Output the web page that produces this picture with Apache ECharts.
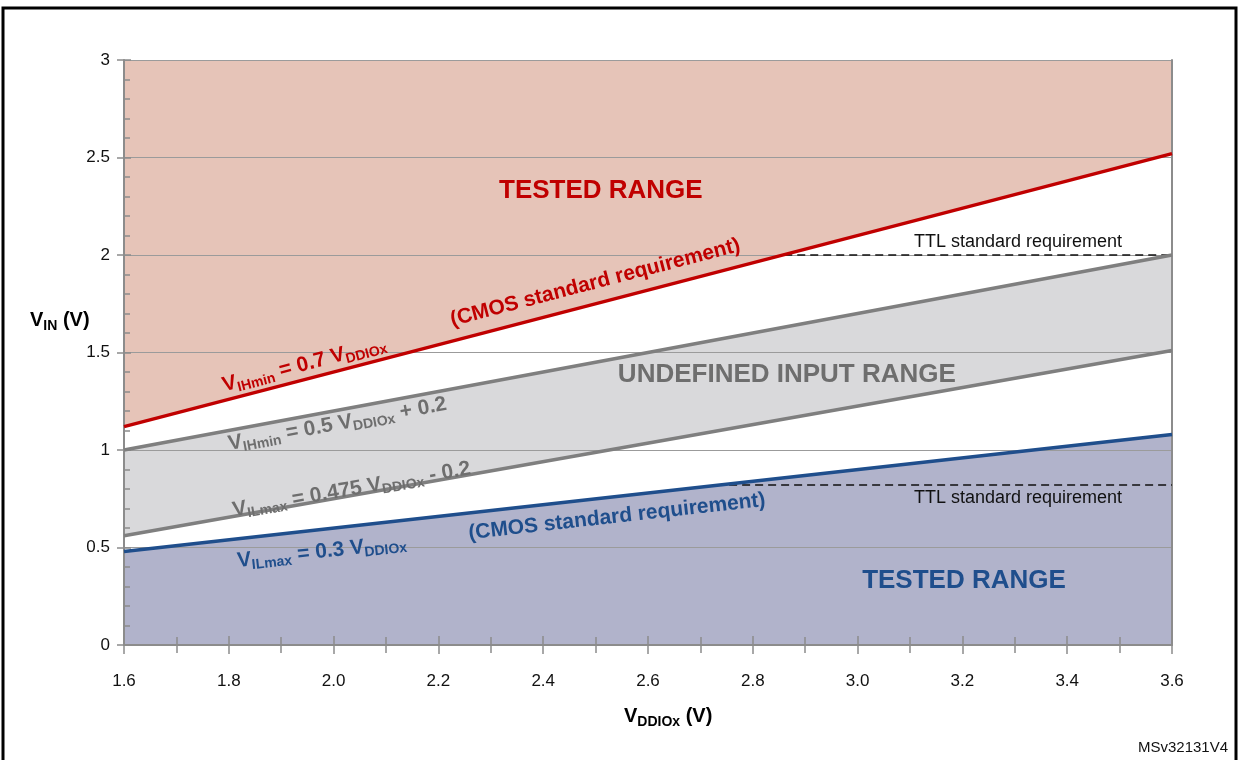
<!DOCTYPE html>
<html>
<head>
  <meta charset="utf-8" />
  <title>VIN vs VDDIOx input characteristics</title>
  <script src="https://cdn.jsdelivr.net/npm/echarts@6/dist/echarts.min.js"></script>
  <style>
    html, body { margin: 0; padding: 0; background: #ffffff; }
    #chart { width: 1239px; height: 760px; }
  </style>
</head>
<body>
  <div id="chart"></div>
  <script>
    // supply voltage range (x) and the four threshold lines (y) at both ends
    const vddio   = [1.6, 3.6];
    const vihCmos = [1.12, 2.52];   // 0.7 VDDIOx
    const vihMin  = [1.0, 2.0];     // 0.5 VDDIOx + 0.2
    const vilMax  = [0.56, 1.51];   // 0.475 VDDIOx - 0.2
    const vilCmos = [0.48, 1.08];   // 0.3 VDDIOx

    // TTL requirement dashed segments
    const ttlHighX = [2.86, 3.6];
    const ttlHighY = [2.0, 2.0];
    const ttlLowX  = [2.73, 3.6];
    const ttlLowY  = [0.82, 0.82];

    const FONT = '"Liberation Sans", Arial, sans-serif';
    const RED = '#c00000', GREY = '#6e6e6e', BLUE = '#1f4e8c';

    function pts(xs, ys) { return xs.map((x, i) => [x, ys[i]]); }

    function richFor(color, big, small) {
      return {
        m: { fontFamily: FONT, fontWeight: 'bold', fontSize: big, color: color, lineHeight: big + 3, verticalAlign: 'top' },
        s: { fontFamily: FONT, fontWeight: 'bold', fontSize: small, color: color, lineHeight: small, verticalAlign: 'top', padding: [Math.round(big * 0.43), 0, 0, 0] }
      };
    }

    // annotations: text, anchor (data coords), rotation, color, size
    const notes = [
      { t: '{m|TESTED RANGE}', at: [2.51, 2.32], rot: 0, c: RED, f: 26 },
      { t: '{m|(CMOS standard requirement)}', at: [2.5, 1.85], rot: 14.6, c: RED, f: 21 },
      { t: '{m|V}{s|IHmin}{m| = 0.7 V}{s|DDIOx}', at: [1.945, 1.43], rot: 14.6, c: RED, f: 21 },
      { t: '{m|UNDEFINED INPUT RANGE}', at: [2.865, 1.38], rot: 0, c: GREY, f: 26 },
      { t: '{m|V}{s|IHmin}{m| = 0.5 V}{s|DDIOx}{m| + 0.2}', at: [2.008, 1.125], rot: 10.5, c: GREY, f: 21 },
      { t: '{m|V}{s|ILmax}{m| = 0.475 V}{s|DDIOx}{m| - 0.2}', at: [2.035, 0.79], rot: 10, c: GREY, f: 21 },
      { t: '{m|(CMOS standard requirement)}', at: [2.541, 0.65], rot: 6.4, c: BLUE, f: 21 },
      { t: '{m|V}{s|ILmax}{m| = 0.3 V}{s|DDIOx}', at: [1.978, 0.47], rot: 6.4, c: BLUE, f: 21 },
      { t: '{m|TESTED RANGE}', at: [3.203, 0.32], rot: 0, c: BLUE, f: 26 }
    ];

    const ttlNotes = [
      { t: 'TTL standard requirement', at: [3.306, 2.065] },
      { t: 'TTL standard requirement', at: [3.306, 0.755] }
    ];

    const chart = echarts.init(document.getElementById('chart'));

    const axisGrey = '#8c8c8c';
    const tickLabel = { color: '#111', fontFamily: FONT, fontSize: 17 };

    function fill(ys, color, origin, z) {
      return { type: 'line', data: pts(vddio, ys), symbol: 'none', z: z, silent: true,
               lineStyle: { width: 0 }, areaStyle: { color: color, opacity: 1, origin: origin } };
    }

    const series = [
      // fills, painted bottom-up so each band covers the one beneath
      fill(vihCmos, '#e6c4b8', 'end', 1),
      fill(vihMin, '#d9d9db', 'start', 1),
      fill(vilMax, '#ffffff', 'start', 1.1),
      fill(vilCmos, '#b1b3cb', 'start', 1.2),
      // threshold lines
      { type: 'line', data: pts(vddio, vihCmos), symbol: 'none', z: 5, lineStyle: { color: RED, width: 3.5 } },
      { type: 'line', data: pts(vddio, vihMin), symbol: 'none', z: 5, lineStyle: { color: '#7f7f7f', width: 3.5 } },
      { type: 'line', data: pts(vddio, vilMax), symbol: 'none', z: 5, lineStyle: { color: '#7f7f7f', width: 3.5 } },
      { type: 'line', data: pts(vddio, vilCmos), symbol: 'none', z: 5, lineStyle: { color: BLUE, width: 3.5 } },
      // TTL dashed
      { type: 'line', data: pts(ttlHighX, ttlHighY), symbol: 'none', z: 4, lineStyle: { color: '#111', width: 1.5, type: [8, 5] } },
      { type: 'line', data: pts(ttlLowX, ttlLowY), symbol: 'none', z: 4, lineStyle: { color: '#111', width: 1.5, type: [8, 5] } },
      // annotation labels
      { type: 'scatter', symbolSize: 0, z: 6, silent: true, itemStyle: { opacity: 1 },
        data: notes.map(n => ({
          value: n.at,
          label: { show: true, position: 'inside', formatter: n.t, rotate: n.rot, opacity: 1,
                   textBorderWidth: 0, rich: richFor(n.c, n.f, Math.round(n.f * 0.66)) }
        })) },
      { type: 'scatter', symbolSize: 0, z: 6, silent: true, itemStyle: { opacity: 1 },
        data: ttlNotes.map(n => ({
          value: n.at,
          label: { show: true, position: 'inside', formatter: n.t, color: '#111', opacity: 1,
                   textBorderWidth: 0, fontFamily: FONT, fontSize: 18 }
        })) }
    ];

    const option = {
      animation: false,
      backgroundColor: '#ffffff',
      grid: { left: 124, right: 67, top: 60, bottom: 115 },
      xAxis: [
        { type: 'value', min: 1.6, max: 3.6, interval: 0.2, position: 'bottom', z: 3,
          axisLine: { show: true, lineStyle: { color: axisGrey, width: 2 } },
          axisTick: { show: true, inside: true, length: 9, lineStyle: { color: axisGrey, width: 1.5 } },
          minorTick: { show: true, splitNumber: 2, length: 8, lineStyle: { color: axisGrey, width: 1.5 } },
          splitLine: { show: false },
          axisLabel: Object.assign({ margin: 28, formatter: v => v.toFixed(1) }, tickLabel) },
        { type: 'value', min: 1.6, max: 3.6, interval: 0.2, position: 'bottom', z: 3,
          axisLine: { show: false },
          axisTick: { show: true, inside: false, length: 9, lineStyle: { color: axisGrey, width: 1.5 } },
          minorTick: { show: true, splitNumber: 2, length: 8, lineStyle: { color: axisGrey, width: 1.5 } },
          splitLine: { show: false }, axisLabel: { show: false } }
      ],
      yAxis: [
        { type: 'value', min: 0, max: 3, interval: 0.5, position: 'left', z: 3,
          axisLine: { show: true, lineStyle: { color: axisGrey, width: 2 } },
          axisTick: { show: true, inside: true, length: 7, lineStyle: { color: axisGrey, width: 1.5 } },
          minorTick: { show: true, splitNumber: 5, length: 6, lineStyle: { color: axisGrey, width: 1.5 } },
          splitLine: { show: true, lineStyle: { color: '#9b9b9b', width: 1 } },
          axisLabel: Object.assign({ margin: 14, formatter: v => String(v) }, tickLabel) },
        { type: 'value', min: 0, max: 3, interval: 0.5, position: 'left', offset: 0, z: 3,
          axisLine: { show: false },
          axisTick: { show: true, inside: false, length: 7, lineStyle: { color: axisGrey, width: 1.5 } },
          splitLine: { show: false }, axisLabel: { show: false } },
        { type: 'value', min: 0, max: 3, interval: 0.5, position: 'right', z: 3,
          axisLine: { show: true, lineStyle: { color: axisGrey, width: 2 } },
          axisTick: { show: false }, splitLine: { show: false }, axisLabel: { show: false } }
      ],
      graphic: [
        { type: 'rect', shape: { x: 3, y: 8, width: 1233, height: 770 }, z: 10, silent: true,
          style: { fill: 'none', stroke: '#000', lineWidth: 3 } },
        { type: 'text', left: 30, top: 310, z: 10, silent: true,
          style: { text: '{m|V}{s|IN}{m| (V)}', rich: richFor('#111', 20, 14) } },
        { type: 'text', left: 624, top: 706, z: 10, silent: true,
          style: { text: '{m|V}{s|DDIOx}{m| (V)}', rich: richFor('#111', 20, 14) } },
        { type: 'text', right: 11, top: 740, z: 10, silent: true,
          style: { text: 'MSv32131V4', fill: '#111', font: '15px ' + FONT } }
      ],
      series: series
    };

    chart.setOption(option);
  </script>
</body>
</html>
